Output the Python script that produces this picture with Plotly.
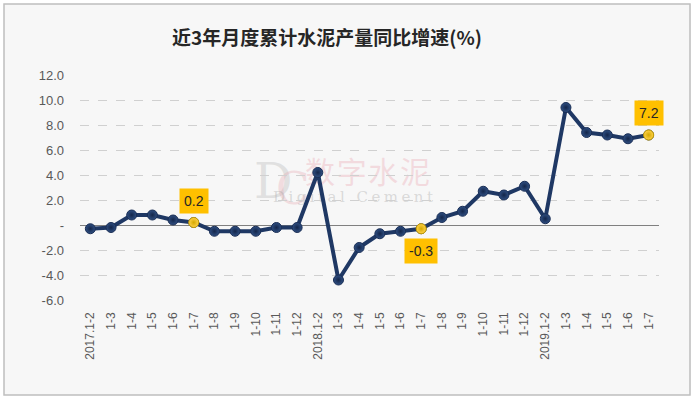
import base64
import plotly.graph_objects as go

categories = ["2017.1-2", "1-3", "1-4", "1-5", "1-6", "1-7", "1-8", "1-9", "1-10", "1-11", "1-12",
              "2018.1-2", "1-3", "1-4", "1-5", "1-6", "1-7", "1-8", "1-9", "1-10", "1-11", "1-12",
              "2019.1-2", "1-3", "1-4", "1-5", "1-6", "1-7"]
growth = [-0.3, -0.2, 0.8, 0.8, 0.4, 0.2, -0.5, -0.5, -0.5, -0.2, -0.2,
          4.2, -4.4, -1.8, -0.7, -0.5, -0.3, 0.6, 1.1, 2.7, 2.4, 3.1,
          0.5, 9.4, 7.4, 7.2, 6.9, 7.2]
highlight_idx = [5, 16, 27]
label_shift = [22, -22, 22]
y_tickvals = [-6, -4, -2, 0, 2, 4, 6, 8, 10, 12]
y_ticktext = ["-6.0", "-4.0", "-2.0", "-", "2.0", "4.0", "6.0", "8.0", "10.0", "12.0"]
title_text = "近3年月度累计水泥产量同比增速(%)"

xs = list(range(len(categories)))

fig = go.Figure()
fig.add_trace(go.Scatter(
    x=xs, y=growth, mode="lines+markers",
    line=dict(color="#1F3864", width=4),
    marker=dict(size=10, color="#2F4F82", line=dict(color="#1A2E55", width=1),
                gradient=dict(type="radial", color="#14264A")),
    hoverinfo="skip", showlegend=False,
))
fig.add_trace(go.Scatter(
    x=[xs[i] for i in highlight_idx], y=[growth[i] for i in highlight_idx], mode="markers",
    marker=dict(size=10, color="#FFD24A", line=dict(color="#C9A000", width=1),
                gradient=dict(type="radial", color="#D4A800")),
    hoverinfo="skip", showlegend=False,
))

for i, s in zip(highlight_idx, label_shift):
    fig.add_annotation(x=xs[i], y=growth[i], text=f"{growth[i]:.1f}", showarrow=False,
                       yshift=s, bgcolor="#FFC000", borderpad=4,
                       font=dict(family="Liberation Sans", size=14, color="#262626"))

# watermark as an SVG image drawn below the data
svg = (
    '<svg xmlns="http://www.w3.org/2000/svg" width="200" height="80" viewBox="0 0 200 80">'
    '<text x="14" y="58" font-family="DejaVu Serif" font-size="48" fill="rgb(195,195,195)" fill-opacity="0.45">D</text>'
    '<text x="36" y="64" font-family="DejaVu Serif" font-size="44" fill="rgb(230,170,180)" fill-opacity="0.35">C</text>'
    '<text x="65" y="43" font-family="Noto Sans CJK SC" font-size="30" textLength="125" '
    'fill="rgb(235,165,175)" fill-opacity="0.35">数字水泥</text>'
    '<text x="33" y="62" font-family="DejaVu Serif" font-size="15" textLength="160" '
    'fill="rgb(170,170,170)" fill-opacity="0.4">Digital Cement</text>'
    '</svg>'
)
src = "data:image/svg+xml;base64," + base64.b64encode(svg.encode("utf-8")).decode("ascii")
fig.add_layout_image(source=src, xref="paper", yref="paper",
                     x=(240 - 80) / 579, y=(300 - 140) / 225,
                     sizex=200 / 579, sizey=80 / 225, xanchor="left", yanchor="top",
                     sizing="stretch", layer="below")

# white outer margin and grey frame
fig.add_shape(type="rect", xref="paper", yref="paper",
              x0=(0 - 80) / 579, x1=(695 - 80) / 579,
              y0=(300 - 399) / 225, y1=(300 - 0) / 225,
              line=dict(color="white", width=8), fillcolor="rgba(0,0,0,0)", layer="below")
fig.add_shape(type="rect", xref="paper", yref="paper",
              x0=(4 - 80) / 579, x1=(690 - 80) / 579,
              y0=(300 - 395) / 225, y1=(300 - 4) / 225,
              line=dict(color="#BFBFBF", width=1.5), fillcolor="rgba(0,0,0,0)", layer="below")

fig.update_layout(
    width=695, height=399,
    margin=dict(l=80, r=36, t=75, b=99),
    paper_bgcolor="#F7F7F7", plot_bgcolor="rgba(0,0,0,0)",
    title=dict(text=title_text, x=327 / 695, xanchor="center", y=1 - 38 / 399, yanchor="middle",
               font=dict(family="Noto Sans CJK SC", size=19, color="#262626", weight="bold")),
    xaxis=dict(range=[-0.5, len(categories) - 0.5], tickmode="array", tickvals=xs, ticktext=categories,
               tickangle=-90, showgrid=False, zeroline=False, showline=False, ticks="",
               ticklabelstandoff=9,
               tickfont=dict(family="Liberation Sans", size=12, color="#595959")),
    yaxis=dict(range=[-6, 12], tickmode="array", tickvals=y_tickvals, ticktext=y_ticktext,
               showgrid=True, gridcolor="#D0D0D0", griddash="dash", gridwidth=1,
               zeroline=True, zerolinecolor="#808080", zerolinewidth=1,
               showline=False, ticks="", ticklabelstandoff=15,
               tickfont=dict(family="Liberation Sans", size=13, color="#595959")),
)

fig.write_html("out.html", config={"displayModeBar": False},
               post_script="document.body.style.margin='0';document.body.style.overflow='hidden';")
